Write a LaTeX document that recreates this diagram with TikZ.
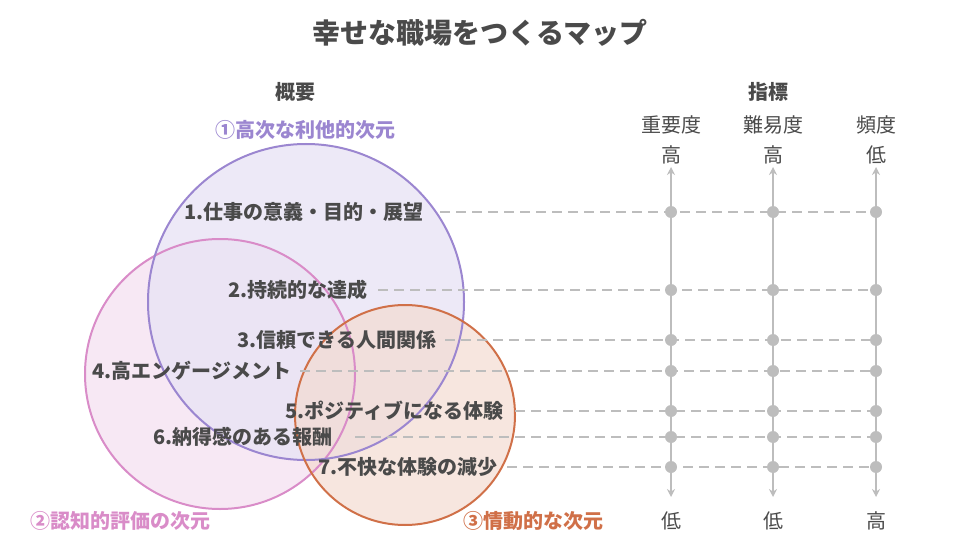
\documentclass[tikz,border=0pt]{standalone}
\usepackage{fontspec}
\setmainfont{Noto Sans CJK JP}
\usetikzlibrary{arrows.meta}
\definecolor{txt}{HTML}{4A4A4A}
\definecolor{pur}{HTML}{9B86D0}
\definecolor{pnk}{HTML}{D98CC8}
\definecolor{org}{HTML}{D07048}
\definecolor{ax}{HTML}{BDBDBD}
\begin{document}
\begin{tikzpicture}[x=1pt,y=-1pt,
 lab/.style={font=\bfseries\fontsize{20}{22}\selectfont,text=txt,inner sep=0},
 hd/.style={font=\fontsize{20}{22}\selectfont,text=txt,inner sep=0},
 dl/.style={ax,line width=2pt,dash pattern=on 10pt off 6pt},
 dot/.style={circle,fill=ax,inner sep=0,minimum size=12pt}]
\useasboundingbox (0,0) rectangle (960,540);
\fill[pnk!20] (220,374) circle (135);
\fill[pur!22,opacity=0.8] (306,302) circle (158);
\fill[org!25,opacity=0.7] (405,415) circle (110);
\draw[pnk,line width=2pt] (220,374) circle (135);
\draw[pur,line width=2pt] (306,302) circle (158);
\draw[org,line width=2pt] (405,415) circle (110);
\node[font=\bfseries\fontsize{28}{30}\selectfont,text=txt] (title) at (480,33) {幸せな職場をつくるマップ};
\node[lab] (gai) at (295,92) {概要};
\node[lab] (shi) at (768,92) {指標};
\node[lab,text=pur] (c1) at (305,130) {①高次な利他的次元};
\node[lab,text=pnk] (c2) at (120,521) {②認知的評価の次元};
\node[lab,text=org] (c3) at (533,521) {③情動的な次元};
\foreach \x/\n/\a/\b/\c in {671/i/重要度/高/低,773/n/難易度/高/低,876/f/頻度/低/高}{
 \node[hd] (h\n) at (\x,125) {\a};
 \node[hd] (t\n) at (\x,155) {\b};
 \node[hd] (b\n) at (\x,521) {\c};
 \coordinate (top\n) at (\x,167);
 \coordinate (bot\n) at (\x,497);
 \draw[ax,line width=2pt,{Stealth[length=8pt,width=8pt]}-{Stealth[length=8pt,width=8pt]}] (top\n) -- (bot\n);
}
\foreach \k/\y/\xl/\xs/\t in {1/212/304/440/1.仕事の意義・目的・展望,2/290/298/378/2.持続的な達成,3/340/337/445/3.信頼できる人間関係,4/371/192/300/4.高エンゲージメント,5/411/394/515/5.ポジティブになる体験,6/437/243/355/6.納得感のある報酬,7/467/408/507/7.不快な体験の減少}{
 \node[lab] (r\k) at (\xl,\y) {\t};
 \coordinate (s\k) at (\xs,\y);
 \coordinate (e\k) at (876,\y);
 \draw[dl] (s\k) -- (e\k);
 \node[dot] at (671,\y) {};
 \node[dot] at (773,\y) {};
 \node[dot] at (876,\y) {};
}
\end{tikzpicture}
\end{document}
